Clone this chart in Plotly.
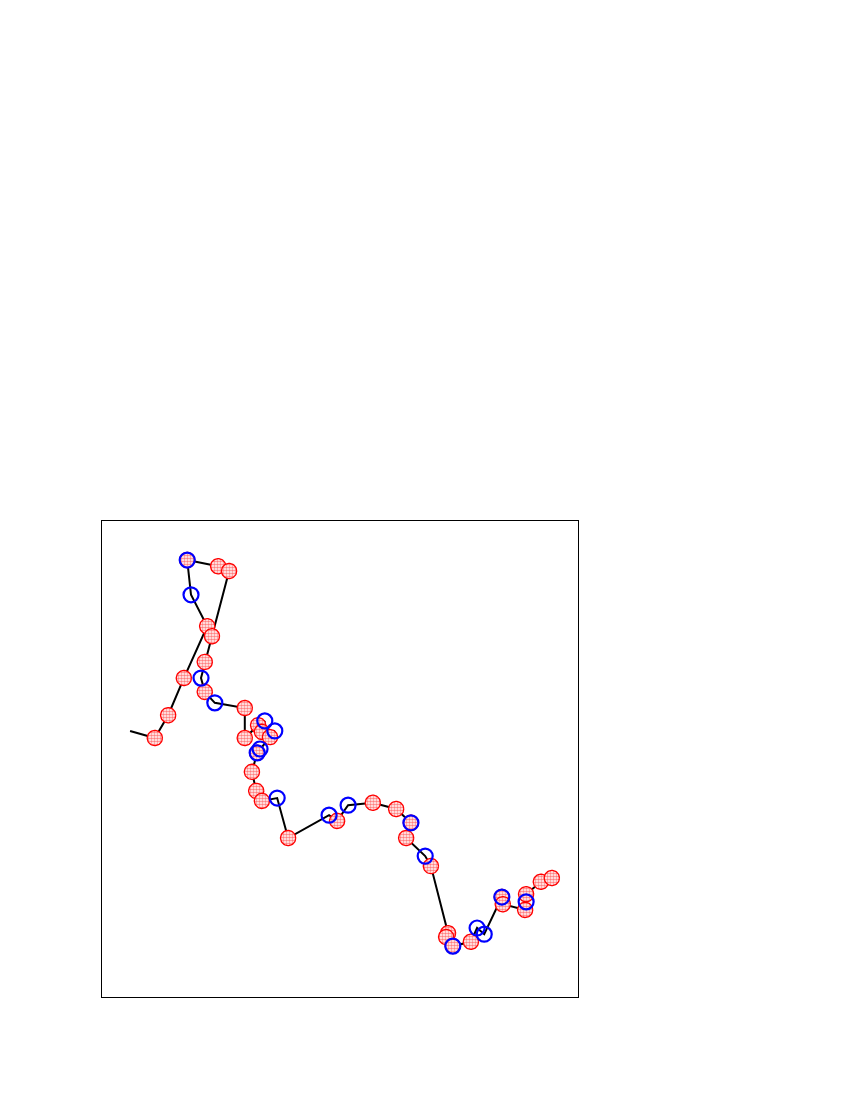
import numpy as np
import plotly.graph_objects as go

# track positions (axis units, 0-100 on both axes)
track_x = [5.9, 11.1, 13.9, 17.2, 22.1, 18.7, 17.9, 24.4, 26.7, 23.1,
           21.6, 20.8, 21.6, 23.7, 30.0, 30.0, 32.8, 34.2, 33.6, 36.3,
           35.3, 33.2, 32.6, 31.5, 32.4, 33.6, 36.8, 39.1, 47.7, 49.4,
           51.7, 56.9, 61.8, 64.9, 63.9, 67.9, 69.1, 72.7, 72.3, 73.7,
           77.5, 78.8, 80.3, 84.0, 84.2, 88.9, 89.1, 89.1, 92.2, 94.5]
track_y = [55.9, 54.4, 59.2, 67.0, 77.9, 84.5, 91.8, 90.5, 89.5, 75.8,
           70.4, 67.0, 64.1, 61.8, 60.7, 54.4, 57.1, 58.0, 55.7, 55.9,
           54.6, 52.1, 51.3, 47.3, 43.3, 41.2, 41.8, 33.4, 38.2, 37.0,
           40.3, 40.8, 39.5, 36.6, 33.4, 29.6, 27.5, 13.4, 12.6, 10.7,
           11.6, 14.5, 13.2, 21.0, 19.5, 18.3, 20.0, 21.6, 24.2, 25.0]

# which track points carry a red (dotted) or blue (open) marker
red_idx = [1, 2, 3, 4, 6, 7, 8, 9, 10, 12, 14, 15, 16, 18, 20, 22, 23, 24,
           25, 27, 29, 31, 32, 33, 34, 36, 37, 38, 39, 40, 43, 44, 45, 47, 48, 49]
blue_idx = [5, 6, 11, 13, 17, 19, 21, 22, 26, 28, 30, 33, 35, 39, 41, 42, 43, 46]

fig = go.Figure()

fig.add_trace(go.Scatter(x=track_x, y=track_y, mode='lines',
                         line=dict(color='black', width=2), hoverinfo='skip'))

# red dotted discs: patterned fills so the dots show
r = 1.6
t = np.linspace(0, 2 * np.pi, 48)
for i in red_idx:
    fig.add_trace(go.Scatter(
        x=track_x[i] + r * np.cos(t), y=track_y[i] + r * np.sin(t),
        mode='lines', fill='toself',
        line=dict(color='red', width=1.3),
        fillcolor='white',
        fillpattern=dict(shape='.', fgcolor='red', bgcolor='white', size=3, solidity=0.55),
        hoverinfo='skip'))

fig.add_trace(go.Scatter(
    x=[track_x[i] for i in blue_idx], y=[track_y[i] for i in blue_idx],
    mode='markers',
    marker=dict(symbol='circle-open', size=15, color='blue', line=dict(width=2.2)),
    hoverinfo='skip'))

ax = dict(range=[0, 100], showgrid=False, zeroline=False, showticklabels=False,
          ticks='', showline=True, mirror=True, linecolor='black', linewidth=1)
fig.update_layout(
    width=850, height=1100, showlegend=False,
    plot_bgcolor='white', paper_bgcolor='white',
    margin=dict(l=94, r=280, t=513, b=111),
    xaxis=ax, yaxis=ax,
)

fig.write_html("out.html")
